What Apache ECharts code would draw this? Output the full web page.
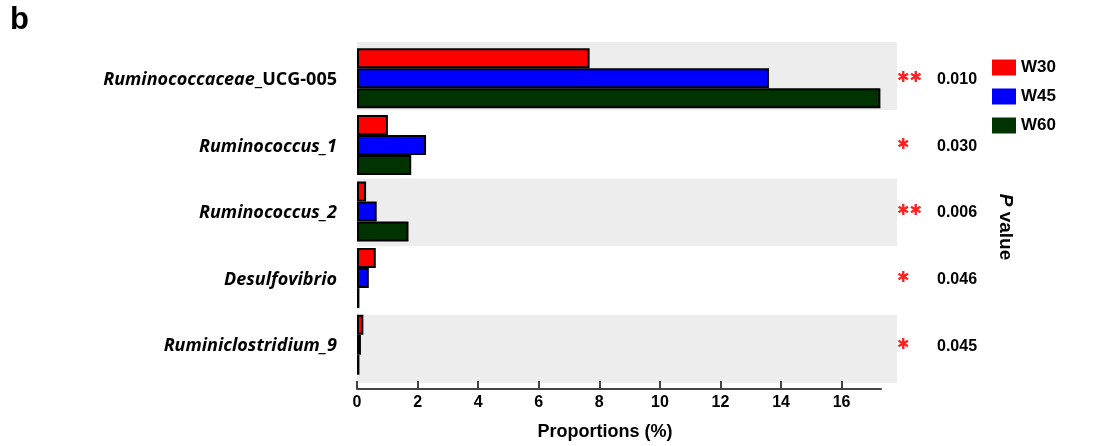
<!DOCTYPE html>
<html>
<head>
<meta charset="utf-8">
<script src="https://cdn.jsdelivr.net/npm/echarts@6/dist/echarts.min.js"></script>
<style>
html,body{margin:0;padding:0;background:#fff;}
#chart{width:1099px;height:446px;}
</style>
</head>
<body>
<div id="chart"></div>
<script>
const categories = ['Ruminococcaceae_UCG-005', 'Ruminococcus_1', 'Ruminococcus_2', 'Desulfovibrio', 'Ruminiclostridium_9'];
const seriesNames = ['W30', 'W45', 'W60'];
const w30 = [7.68, 1.02, 0.30, 0.62, 0.21];
const w45 = [13.6, 2.28, 0.65, 0.39, 0.13];
const w60 = [17.28, 1.79, 1.70, 0.08, 0.08];
const stars = ['✱✱', '✱', '✱✱', '✱', '✱'];
const pValues = ['0.010', '0.030', '0.006', '0.046', '0.045'];
const xMin = 0, xMax = 17.3, xInterval = 2;
const colors = ['#ff0000', '#0000ff', '#003300'];

const chart = echarts.init(document.getElementById('chart'), null, {renderer: 'canvas'});

function catLabel(v) {
  const m = v.match(/^(.*?)(_UCG-\d+)$/);
  if (m) return '{it|' + m[1] + '}{up|' + m[2] + '}';
  return '{it|' + v + '}';
}

const barData = [w30, w45, w60];

const option = {
  animation: false,
  backgroundColor: '#ffffff',
  title: {
    text: 'b', left: 10, top: 5, padding: 0,
    textStyle: {fontFamily: 'Liberation Sans', fontWeight: 'bold', fontSize: 31, color: '#000'}
  },
  legend: {
    data: seriesNames,
    orient: 'vertical', left: 992, top: 59, padding: 0,
    itemWidth: 24, itemHeight: 16, itemGap: 12,
    icon: 'rect',
    itemStyle: {borderWidth: 0},
    textStyle: {fontFamily: 'Liberation Sans', fontWeight: 'bold', fontSize: 17, color: '#000'}
  },
  grid: [
    {left: 357, right: 202, top: 42, bottom: 63},
    {left: 357, right: 218, top: 45, bottom: 66}
  ],
  xAxis: [
    {gridIndex: 0, type: 'value', min: 0, max: 1, show: false},
    {
      gridIndex: 1, type: 'value', min: xMin, max: xMax, interval: xInterval,
      offset: 11,
      axisLine: {show: true, lineStyle: {color: '#444', width: 2}},
      axisTick: {show: true, inside: true, length: 8, lineStyle: {color: '#444', width: 2}},
      splitLine: {show: false},
      axisLabel: {margin: 6, fontFamily: 'Liberation Sans', fontWeight: 'bold', fontSize: 16, color: '#000',
        showMaxLabel: false},
      name: 'Proportions (%)', nameLocation: 'middle', nameGap: 34,
      nameTextStyle: {fontFamily: 'Liberation Sans', fontWeight: 'bold', fontSize: 18, color: '#000', padding: [0, 28, 0, 0]}
    }
  ],
  yAxis: [
    {
      gridIndex: 0, type: 'category', data: categories, inverse: true,
      axisLine: {show: false}, axisTick: {show: false}, axisLabel: {show: false},
      splitArea: {show: true, areaStyle: {color: ['#ededed', '#ffffff']}}
    },
    {
      gridIndex: 1, type: 'category', data: categories, inverse: true,
      axisLine: {show: false}, axisTick: {show: false},
      axisLabel: {
        margin: 20, formatter: catLabel, padding: [3, 0, 0, 0],
        rich: {
          it: {fontFamily: 'Open Sans', fontStyle: 'italic', fontWeight: 'bold', fontSize: 18, color: '#000'},
          up: {fontFamily: 'Open Sans', fontWeight: 'bold', fontSize: 18, color: '#000'}
        }
      }
    },
    {
      gridIndex: 1, type: 'category', data: categories, inverse: true, position: 'right',
      axisLine: {show: false}, axisTick: {show: false},
      axisLabel: {
        margin: 16, align: 'left',
        formatter: function (v, i) { return '{s|' + stars[i] + '}{p|' + pValues[i] + '}'; },
        rich: {
          s: {fontFamily: 'DejaVu Sans', fontWeight: 'bold', fontSize: 15, color: '#ff2020', width: 40, verticalAlign: 'middle'},
          p: {fontFamily: 'Liberation Sans', fontWeight: 'bold', fontSize: 16, color: '#000', verticalAlign: 'middle', padding: [3, 0, 0, 0]}
        }
      }
    }
  ],
  graphic: [
    {
      type: 'text', x: 1005, y: 227, rotation: -Math.PI / 2,
      style: {
        text: '{i|P} value', align: 'center', verticalAlign: 'middle',
        fontFamily: 'Liberation Sans', fontWeight: 'bold', fontSize: 19, fill: '#000',
        rich: {i: {fontFamily: 'Liberation Sans', fontStyle: 'italic', fontWeight: 'bold', fontSize: 19, fill: '#000'}}
      }
    }
  ],
  series: seriesNames.map(function (n, k) {
    return {
      name: n, type: 'bar', xAxisIndex: 1, yAxisIndex: 1,
      data: barData[k], barWidth: 20, barGap: '0%',
      itemStyle: {color: colors[k], borderColor: '#000', borderWidth: 2}
    };
  })
};
chart.setOption(option);
</script>
</body>
</html>
